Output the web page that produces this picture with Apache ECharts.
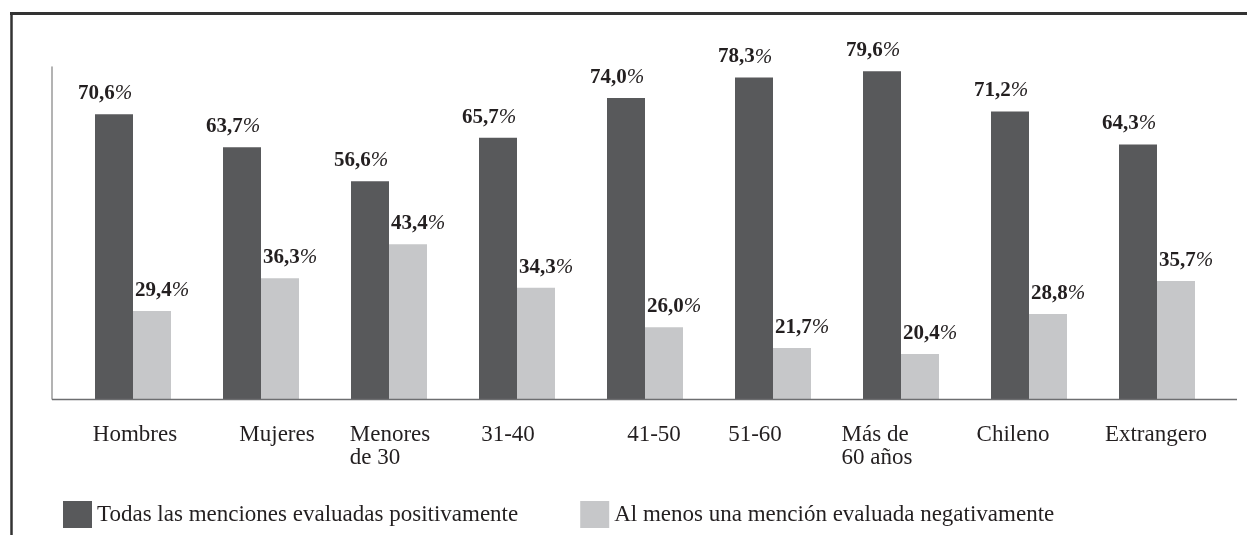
<!DOCTYPE html>
<html>
<head>
<meta charset="utf-8">
<script src="https://cdn.jsdelivr.net/npm/echarts@6/dist/echarts.min.js"></script>
<style>
html,body{margin:0;padding:0;background:#fff;}
#chart{width:1247px;height:535px;}
</style>
</head>
<body>
<div id="chart"></div>
<script>
// ---- data ----
var categories = ['Hombres', 'Mujeres', 'Menores\nde 30', '31-40', '41-50', '51-60', 'Más de\n60 años', 'Chileno', 'Extrangero'];
var seriesNames = ['Todas las menciones evaluadas positivamente', 'Al menos una mención evaluada negativamente'];
var positivas = [70.6, 63.7, 56.6, 65.7, 74.0, 78.3, 79.6, 71.2, 64.3];
var negativas = [29.4, 36.3, 43.4, 34.3, 26.0, 21.7, 20.4, 28.8, 35.7];

// ---- style (label nudges, px) ----
var labelShift = [2, 16, 1, -9, 9, -18, -24, -16, -1];

var serif = '"Liberation Serif", "DejaVu Serif", serif';
var textColor = '#231f20';
var darkColor = '#58595b';
var lightColor = '#c6c7c9';

var rich = {};
labelShift.forEach(function (dx, i) {
  rich['c' + i] = {
    fontFamily: serif, fontSize: 23, lineHeight: 23, color: textColor, align: 'left',
    padding: dx >= 0 ? [0, 0, 0, 2 * dx] : [0, -2 * dx, 0, 0]
  };
});

function fmt(p) {
  return '{n|' + p.value.toFixed(1).replace('.', ',') + '}{p|%}';
}
var valueRich = {
  n: { fontFamily: serif, fontSize: 21, fontWeight: 'bold', color: textColor },
  p: { fontFamily: serif, fontSize: 21, fontWeight: 'normal', fontStyle: 'italic', color: textColor }
};

var chart = echarts.init(document.getElementById('chart'), null, { renderer: 'canvas' });
chart.setOption({
  animation: false,
  backgroundColor: '#ffffff',
  grid: { left: 69, right: 26, top: 67, bottom: 136, containLabel: false },
  legend: {
    data: seriesNames,
    left: 58, top: 496,
    itemWidth: 29, itemHeight: 27, itemGap: 62,
    icon: 'rect',
    textStyle: { fontFamily: serif, fontSize: 23, color: textColor }
  },
  xAxis: {
    type: 'category',
    data: categories,
    axisLine: { show: false },
    axisTick: { show: false },
    axisLabel: {
      interval: 0, margin: 24,
      formatter: function (v, i) { return '{c' + i + '|' + v + '}'; },
      rich: rich
    }
  },
  yAxis: {
    type: 'value',
    min: 11, max: 80.5,
    offset: 17,
    axisLine: { show: true, lineStyle: { color: '#9a9a9a', width: 1.5 } },
    axisTick: { show: false },
    axisLabel: { show: false },
    splitLine: { show: false }
  },
  series: [
    {
      name: seriesNames[0], type: 'bar', data: positivas,
      barWidth: 38, barGap: '0%',
      itemStyle: { color: darkColor },
      label: { show: true, position: 'top', distance: 10, offset: [-9, 0], formatter: fmt, rich: valueRich }
    },
    {
      name: seriesNames[1], type: 'bar', data: negativas,
      barWidth: 38, barGap: '0%',
      itemStyle: { color: lightColor },
      label: { show: true, position: 'top', distance: 10, offset: [10, 0], formatter: fmt, rich: valueRich }
    }
  ],
  graphic: [
    { type: 'line', shape: { x1: 52, y1: 399.5, x2: 1237, y2: 399.5 }, style: { stroke: '#6d6e70', lineWidth: 1.5 }, z: 10 },
    { type: 'line', shape: { x1: 10, y1: 13.5, x2: 1247, y2: 13.5 }, style: { stroke: '#333333', lineWidth: 3 } },
    { type: 'line', shape: { x1: 11.5, y1: 12, x2: 11.5, y2: 535 }, style: { stroke: '#333333', lineWidth: 2.5 } }
  ]
});
</script>
</body>
</html>
